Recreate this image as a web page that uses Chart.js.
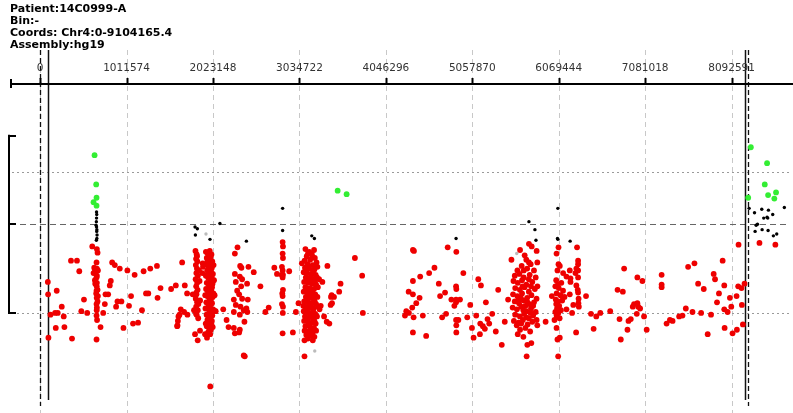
<!DOCTYPE html>
<html>
<head>
<meta charset="utf-8">
<script src="https://cdn.jsdelivr.net/npm/chart.js@4.4.0/dist/chart.umd.min.js"></script>
<style>
  html, body { margin: 0; padding: 0; background: #fff; }
  canvas { display: block; }
</style>
</head>
<body>
<canvas id="cnv" width="793" height="413"></canvas>
<script>
// header text
const headerLines = ["Patient:14C0999-A", "Bin:-", "Coords: Chr4:0-9104165.4", "Assembly:hg19"];

// x ticks (bp)
const tickValues = [0, 1011574, 2023148, 3034722, 4046296, 5057870, 6069444, 7081018, 8092591];
const tickLabels = ["0", "1011574", "2023148", "3034722", "4046296", "5057870", "6069444", "7081018", "8092591"];

// visible window (bp / log2 ratio)
const xMin = -352820, xMax = 8764660;
const yMin = -2.062, yMax = 1.595;

// reference levels and region markers
const dottedLevels = [0.585, -1];
const dashedLevels = [0];
const bracketLevels = [1, 0, -1];
const dashedMarksKb = [0, 8285];
const solidMarksKb = [93, 8244];

// points: [position kb, log2 ratio]
const redStart = [
  [90,-0.65],[93,-0.79],[97,-1.28],[121,-1.02],[175,-1.00],[183,-1.17],[194,-0.75],[206,-1.00],
  [253,-0.93],[276,-1.04],[284,-1.16],[361,-0.41],[373,-1.29],[431,-0.41],[458,-0.53],[482,-0.98],
  [513,-0.85],[551,-1.00],[610,-0.25],
  [664,-0.28],[672,-0.32],[660,-0.43],[633,-0.49],[664,-0.50],[641,-0.53],[676,-0.52],[625,-0.55],
  [664,-0.58],[660,-0.60],[641,-0.63],[664,-0.66],[645,-0.67],[662,-0.70],[672,-0.74],[656,-0.78],
  [660,-0.75],[676,-0.81],[662,-0.83],[672,-0.87],[660,-0.90],[664,-0.94],[662,-0.97],[660,-1.03],
  [666,-1.08],[660,-1.30],
  [707,-1.16],[738,-1.00],[757,-0.90],[765,-0.79],[796,-0.79],[815,-0.69],[827,-0.64],[843,-0.43],
  [874,-0.46],[889,-0.93],[905,-0.87],[932,-0.50],[951,-0.87],[975,-1.17],[1021,-0.52],[1040,-0.92],
  [1064,-0.81],[1087,-1.12],[1106,-0.57],[1146,-1.11],[1192,-0.97],[1211,-0.53],[1239,-0.78],
  [1266,-0.78],[1289,-0.50],[1367,-0.47],[1374,-0.83],[1409,-0.72],[1533,-0.73],[1588,-0.69],
  [1604,-1.15],[1612,-1.09],[1631,-1.02],[1646,-0.96],[1662,-0.43],[1685,-0.99],[1693,-0.69],
  [1720,-0.78],[1724,-1.02],[1607,-1.14],[1619,-1.04],[1786,-0.79],[1801,-0.97],[1825,-1.01]
];

const redClusterA = [
  [1813,-1.24],[1844,-1.31],[1871,-1.20],[1930,-1.24],[1953,-1.28],[1991,-1.83],
  [1818,-0.30],[1832,-0.34],[1825,-0.39],[1840,-0.42],[1822,-0.46],[1835,-0.50],[1828,-0.55],
  [1846,-0.58],[1820,-0.62],[1838,-0.66],[1826,-0.70],[1843,-0.74],[1830,-0.79],[1821,-0.84],
  [1837,-0.88],[1826,-0.93],[1845,-0.97],[1832,-1.02],[1850,-1.06],[1860,-0.52],[1866,-0.64],
  [1872,-0.86],[1902,-0.44],[1906,-0.48],[1898,-0.55],
  [1940,-0.31],[1962,-0.33],[1985,-0.30],[2005,-0.34],[1950,-0.38],[1975,-0.40],[1995,-0.37],
  [2015,-0.42],[1945,-0.45],[1968,-0.47],[1990,-0.44],[2010,-0.49],[2030,-0.46],[1955,-0.52],
  [1980,-0.55],[2000,-0.53],[2022,-0.56],[1940,-0.58],[1965,-0.60],[1988,-0.62],[2008,-0.60],
  [2035,-0.63],[1950,-0.66],[1972,-0.68],[1995,-0.70],[2018,-0.67],[1942,-0.73],[1960,-0.75],
  [1985,-0.77],[2003,-0.74],[2028,-0.78],[1955,-0.81],[1978,-0.83],[1998,-0.85],[2020,-0.82],
  [2042,-0.80],[1945,-0.88],[1968,-0.90],[1990,-0.92],[2012,-0.89],[1958,-0.95],[1980,-0.97],
  [2002,-0.99],[2025,-0.96],[2050,-0.98],[1948,-1.02],[1970,-1.04],[1992,-1.06],[2015,-1.03],
  [1962,-1.09],[1985,-1.11],[2005,-1.13],[1950,-1.15],[1975,-1.17],[1998,-1.19],[2020,-1.16],
  [1965,-1.22],[1990,-1.24],[1958,-1.08],[1935,-0.95],[1932,-0.80],
  [1978,-0.35],[1958,-0.42],[2000,-0.48],[1972,-0.57],[2012,-0.71],[1968,-0.79],[1990,-0.86],
  [1978,-0.93],[2010,-1.09],[1938,-1.12],[1836,-0.36],[1828,-0.77],[1852,-0.90]
];

const redMid = [
  [2054,-0.98],[2143,-0.96],[2182,-1.08],[2205,-1.16],[2267,-1.17],[2279,-1.23],
  [2310,-0.26],[2279,-0.33],[2341,-0.47],[2356,-0.49],[2438,-0.48],[2279,-0.56],[2337,-0.59],
  [2364,-0.62],[2290,-0.65],[2422,-0.67],[2353,-0.70],[2306,-0.75],[2329,-0.79],[2267,-0.85],
  [2364,-0.84],[2290,-0.91],[2345,-0.93],[2383,-0.97],[2267,-0.99],[2337,-1.02],[2391,-1.10],
  [2337,-1.19],[2329,-1.22],[2383,-1.48],
  [2430,-0.85],[2414,-0.95],[2425,-0.99],[2395,-1.49],[2500,-0.54],[2578,-0.70],[2636,-0.99],
  [2675,-0.94],[2741,-0.49],[2772,-0.56],
  [2838,-0.20],[2842,-0.25],[2838,-0.33],[2842,-0.38],[2830,-0.48],[2838,-0.52],[2826,-0.57],
  [2842,-0.57],[2838,-0.60],[2842,-0.74],[2834,-0.78],[2838,-0.81],[2830,-0.90],[2842,-0.93],
  [2840,-1.00],[2838,-1.23],[2915,-0.53],[2958,-1.22],[2993,-0.99],[3024,-0.89]
];

const redClusterB = [
  [3105,-0.28],[3150,-0.31],[3206,-0.29],[3180,-0.34],[3120,-0.36],[3215,-0.38],[3095,-0.41],
  [3160,-0.40],[3235,-0.43],[3130,-0.45],[3190,-0.46],[3100,-0.49],[3150,-0.50],[3210,-0.51],
  [3245,-0.48],[3085,-0.54],[3125,-0.55],[3175,-0.56],[3225,-0.57],[3110,-0.60],[3160,-0.61],
  [3200,-0.62],[3240,-0.60],[3090,-0.65],[3135,-0.66],[3185,-0.67],[3230,-0.68],[3105,-0.71],
  [3155,-0.72],[3205,-0.73],[3250,-0.71],[3085,-0.76],[3130,-0.77],[3175,-0.78],[3220,-0.79],
  [3110,-0.82],[3160,-0.83],[3200,-0.84],[3245,-0.82],[3090,-0.87],[3140,-0.88],[3185,-0.89],
  [3230,-0.90],[3105,-0.93],[3150,-0.94],[3200,-0.95],[3255,-0.93],[3085,-0.98],[3130,-0.99],
  [3175,-1.00],[3220,-1.01],[3100,-1.04],[3150,-1.05],[3195,-1.06],[3240,-1.04],[3090,-1.09],
  [3135,-1.10],[3180,-1.11],[3225,-1.12],[3105,-1.15],[3160,-1.16],[3205,-1.17],[3095,-1.20],
  [3140,-1.21],[3190,-1.22],[3230,-1.20],[3115,-1.25],[3170,-1.26],[3210,-1.27],[3094,-1.31],
  [3133,-1.29],[3191,-1.31],[3094,-1.49],[3063,-0.44],[3080,-0.92],[3270,-0.96],[3265,-0.62],
  [3120,-0.85],[3170,-0.58],[3215,-0.88],
  [3135,-0.33],[3190,-0.37],[3110,-0.52],[3195,-0.53],[3140,-0.63],[3215,-0.65],[3120,-0.74],
  [3185,-0.75],[3135,-0.80],[3210,-0.86],[3165,-0.91],[3120,-0.96],[3195,-0.98],[3160,-1.02],
  [3120,-1.07],[3210,-1.09],[3150,-1.13],[3180,-1.19],[3140,-1.24],
  [3284,-0.92],[3303,-0.65],[3323,-1.04],[3354,-1.10],[3385,-1.12],[3404,-0.82],[3439,-0.82],
  [3416,-0.89],[3400,-0.91],[3500,-0.76],[3516,-0.67],[3362,-0.47],[3412,-0.80]
];

const redFar = [
  [3684,-0.38],[3769,-0.58],[3777,-1.00],[4363,-0.29],[4375,-0.30],[4770,-0.26],[4871,-0.31],
  [4615,-0.49],[4553,-0.55],[4448,-0.59],[4363,-0.64],[4313,-0.76],[4363,-0.79],[4441,-0.83],
  [4402,-0.89],[4355,-0.94],[4285,-0.98],[4316,-1.00],[4270,-1.03],[4371,-1.05],[4479,-1.03],
  [4363,-1.22],[4518,-1.26],[4666,-0.67],[4739,-0.77],[4681,-0.81],[4868,-0.70],[4871,-0.73],
  [4813,-0.85],[4868,-0.85],[4914,-0.85],[4868,-0.88],[4848,-0.92],[4751,-1.01],[4705,-1.05],
  [4868,-1.08],[4895,-1.08],[4871,-1.14],[4871,-1.22],[4953,-0.55],[5034,-0.91],[4999,-1.05],
  [5104,-1.03],[5054,-1.17],[5073,-1.28],
  [5128,-0.62],[5159,-0.69],[5361,-0.74],[5217,-0.88],[5477,-0.85],[5291,-1.01],[5236,-1.07],
  [5256,-1.12],[5151,-1.12],[5182,-1.15],[5205,-1.18],[5147,-1.24],[5333,-1.21],[5438,-1.10],
  [5403,-1.36]
];

const redClusterC = [
  [5721,-0.22],[5753,-0.25],[5617,-0.29],[5811,-0.30],[5671,-0.35],[5516,-0.40],[5721,-0.43],
  [5741,-0.45],[5819,-0.43],[5636,-0.47],[5586,-0.52],[5700,-0.50],[5780,-0.52],[5555,-0.58],
  [5610,-0.56],[5660,-0.60],[5730,-0.57],[5800,-0.60],[5540,-0.64],[5590,-0.66],[5640,-0.63],
  [5690,-0.68],[5760,-0.65],[5820,-0.70],[5560,-0.72],[5615,-0.74],[5670,-0.71],[5720,-0.76],
  [5790,-0.73],[5535,-0.79],[5585,-0.81],[5640,-0.78],[5700,-0.83],[5750,-0.80],[5810,-0.84],
  [5555,-0.87],[5605,-0.89],[5660,-0.86],[5725,-0.90],[5780,-0.88],[5530,-0.94],[5580,-0.96],
  [5630,-0.93],[5690,-0.98],[5745,-0.95],[5800,-0.99],[5560,-1.02],[5615,-1.04],[5665,-1.01],
  [5720,-1.06],[5770,-1.03],[5545,-1.09],[5600,-1.11],[5650,-1.08],[5705,-1.13],[5760,-1.10],
  [5811,-1.08],[5819,-1.14],[5578,-1.14],[5617,-1.19],[5680,-1.17],[5735,-1.21],[5656,-1.27],
  [5702,-1.36],[5749,-1.34],[5694,-1.49],[5590,-1.24],[5645,-0.70],[5680,-0.92],[5600,-0.84],
  [5770,-0.92],[5720,-0.62],
  [5690,-0.40],[5660,-0.52],[5745,-0.70],[5625,-0.83],[5705,-0.88],[5655,-0.97],[5740,-1.00],
  [5630,-1.12],[5690,-1.05]
];

const redClusterD = [
  [6067,-0.26],[6044,-0.33],[6067,-0.45],[6082,-0.47],[6121,-0.55],[6160,-0.59],[6040,-0.63],
  [6055,-0.52],[6100,-0.66],[6030,-0.70],[6070,-0.72],[6120,-0.75],[6045,-0.78],[5989,-0.81],
  [6090,-0.80],[6035,-0.85],[6060,-0.87],[6110,-0.86],[6040,-0.90],[6075,-0.92],[6050,-0.95],
  [6095,-0.97],[6030,-0.99],[6065,-1.00],[6045,-1.03],[6020,-1.08],[6080,-1.06],[6044,-1.17],
  [6055,-1.30],[6082,-1.28],[6063,-1.49],[6137,-0.82],[6160,-0.96],[5916,-1.10],[6060,-0.68],
  [6284,-0.26],[6296,-0.41],[6296,-0.45],[6276,-0.50],[6296,-0.52],[6265,-0.55],[6296,-0.60],
  [6199,-0.52],[6207,-0.61],[6207,-0.65],[6276,-0.69],[6292,-0.74],[6296,-0.77],[6199,-0.79],
  [6302,-0.84],[6300,-0.89],[6305,-0.93],[6226,-1.00],[6273,-1.22],[6389,-0.81],[6447,-1.01],
  [6509,-1.04],[6556,-1.00],[6478,-1.18],[6240,-0.91]
];

const redEnd = [
  [6672,-0.98],[6781,-1.07],[6796,-1.30],[6874,-1.19],[6886,-1.09],[6913,-1.07],[6758,-0.74],
  [6820,-0.76],[6835,-0.50],[6936,-0.93],[6951,-0.90],[6990,-0.89],[7000,-0.93],[6990,-0.60],
  [7049,-0.64],[6983,-1.01],[7022,-0.95],[7068,-1.04],[7099,-1.19],[7274,-0.57],[7274,-0.68],
  [7274,-0.71],[7332,-1.12],[7371,-1.08],[7402,-1.09],[7479,-1.04],[7518,-1.03],[7557,-0.95],
  [7584,-0.48],[7658,-0.44],[7635,-0.99],[7701,-0.67],[7767,-0.73],[7736,-1.00],[7813,-1.24],
  [7852,-1.02],[7883,-0.56],[7899,-0.62],[7945,-0.78],[7922,-0.88],[7988,-0.41],[8007,-0.69],
  [8007,-0.96],[8046,-0.99],[8011,-1.17],[8073,-0.83],[8089,-0.93],[8104,-1.23],[8155,-1.19],
  [8151,-0.81],[8170,-0.70],[8209,-0.72],[8213,-0.91],[8225,-1.13],[8244,-0.67],[8174,-0.23],
  [8419,-0.21],[8605,-0.23]
];

const greenPoints = [
  [637,0.78],[656,0.45],[660,0.30],[625,0.25],[660,0.21],[3482,0.38],[3587,0.34],
  [8318,0.87],[8508,0.69],[8287,0.30],[8481,0.45],[8520,0.33],[8613,0.36],[8593,0.29]
];

const blackPoints = [
  [660,0.14],[662,0.11],[660,0.07],[658,0.03],[655,-0.01],[660,-0.03],[664,-0.06],[662,-0.08],
  [666,-0.12],[664,-0.16],[658,-0.18],[1813,-0.03],[1840,-0.05],[1817,-0.12],[1988,-0.17],
  [2104,0.01],[2414,-0.19],[2838,0.18],[2838,-0.07],[3179,-0.13],[3210,-0.16],[4868,-0.16],
  [5721,0.03],[5791,-0.06],[5803,-0.18],[6059,0.18],[6055,-0.16],[6059,-0.17],[6203,-0.19],
  [8298,0.18],[8361,0.13],[8446,0.17],[8524,0.16],[8469,0.07],[8508,0.08],[8516,0.07],
  [8574,0.11],[8710,0.19],[8380,-0.01],[8396,0.00],[8368,-0.08],[8450,-0.06],[8520,-0.07],
  [8582,-0.13],[8621,-0.11]
];

const grayPoints = [[1941,-0.11],[3214,-1.43],[5578,-0.33]];

const redPoints = [].concat(redStart, redClusterA, redMid, redClusterB, redFar,
  redClusterC, redClusterD, redEnd);

const toXY = (list) => list.map((p) => ({ x: p[0] * 1000, y: p[1] }));

// axis, grid, markers and header drawn with the chart's own scales
const overlay = {
  id: "overlay",
  beforeDatasetsDraw(chart) {
    const ctx = chart.ctx;
    const area = chart.chartArea;
    const xs = chart.scales.x;
    const ys = chart.scales.y;
    const seg = (x1, y1, x2, y2) => {
      ctx.beginPath();
      ctx.moveTo(x1, y1);
      ctx.lineTo(x2, y2);
      ctx.stroke();
    };
    ctx.save();

    // header
    ctx.fillStyle = "#000";
    ctx.font = 'bold 11px "DejaVu Sans"';
    ctx.textAlign = "left";
    ctx.textBaseline = "alphabetic";
    headerLines.forEach((t, i) => ctx.fillText(t, 10, 11.5 + i * 12));

    // light vertical grid at ticks
    ctx.strokeStyle = "#c8c8c8";
    ctx.lineWidth = 1;
    ctx.setLineDash([5, 4]);
    tickValues.forEach((v) => {
      const px = Math.round(xs.getPixelForValue(v)) + 0.5;
      seg(px, 50, px, 413);
    });

    // horizontal reference levels
    ctx.setLineDash([2, 3]);
    ctx.strokeStyle = "#9a9a9a";
    dottedLevels.forEach((v) => {
      const py = Math.round(ys.getPixelForValue(v)) + 0.5;
      seg(12, py, area.right, py);
    });
    ctx.setLineDash([6, 4]);
    ctx.strokeStyle = "#666";
    dashedLevels.forEach((v) => {
      const py = Math.round(ys.getPixelForValue(v)) + 0.5;
      seg(10, py, area.right, py);
    });

    // region markers
    ctx.strokeStyle = "#111";
    ctx.lineWidth = 1.3;
    ctx.setLineDash([5, 3]);
    dashedMarksKb.forEach((v) => {
      const px = Math.round(xs.getPixelForValue(v * 1000)) + 0.5;
      seg(px, 50, px, 406);
    });
    ctx.setLineDash([]);
    ctx.lineWidth = 1.5;
    solidMarksKb.forEach((v) => {
      const px = Math.round(xs.getPixelForValue(v * 1000)) + 0.5;
      seg(px, 50, px, 400);
    });

    // top axis
    ctx.strokeStyle = "#000";
    ctx.lineWidth = 2;
    seg(10, 84, 793, 84);
    seg(11, 79, 11, 88);
    tickValues.forEach((v) => {
      const px = Math.round(xs.getPixelForValue(v));
      seg(px + 0.5, 78, px + 0.5, 84);
    });
    ctx.fillStyle = "#333";
    ctx.font = '10.5px "DejaVu Sans"';
    ctx.textAlign = "center";
    ctx.textBaseline = "middle";
    tickValues.forEach((v, i) => {
      ctx.fillText(tickLabels[i], xs.getPixelForValue(v), 68);
    });

    // left bracket
    const yt = ys.getPixelForValue(bracketLevels[0]);
    const yb = ys.getPixelForValue(bracketLevels[bracketLevels.length - 1]);
    seg(9, yt - 1, 9, yb + 1);
    bracketLevels.forEach((v) => {
      const py = Math.round(ys.getPixelForValue(v));
      seg(8, py, 16, py);
    });

    ctx.restore();
  },
};

const chart = new Chart(document.getElementById("cnv"), {
  type: "scatter",
  data: {
    datasets: [
      { label: "green", data: toXY(greenPoints), backgroundColor: "#33ee33", pointRadius: 2.9, borderWidth: 0 },
      { label: "red", data: toXY(redPoints), backgroundColor: "#ee0000", pointRadius: 2.9, borderWidth: 0 },
      { label: "black", data: toXY(blackPoints), backgroundColor: "#000", pointRadius: 1.7, borderWidth: 0 },
      { label: "gray", data: toXY(grayPoints), backgroundColor: "#bbbbbb", pointRadius: 1.7, borderWidth: 0 },
    ],
  },
  options: {
    responsive: false,
    animation: false,
    layout: { padding: { left: 10, right: 0, top: 83, bottom: 6 } },
    plugins: { legend: { display: false }, tooltip: { enabled: false } },
    scales: {
      x: { type: "linear", display: false, min: xMin, max: xMax },
      y: { type: "linear", display: false, min: yMin, max: yMax },
    },
  },
  plugins: [overlay],
});
</script>
</body>
</html>
